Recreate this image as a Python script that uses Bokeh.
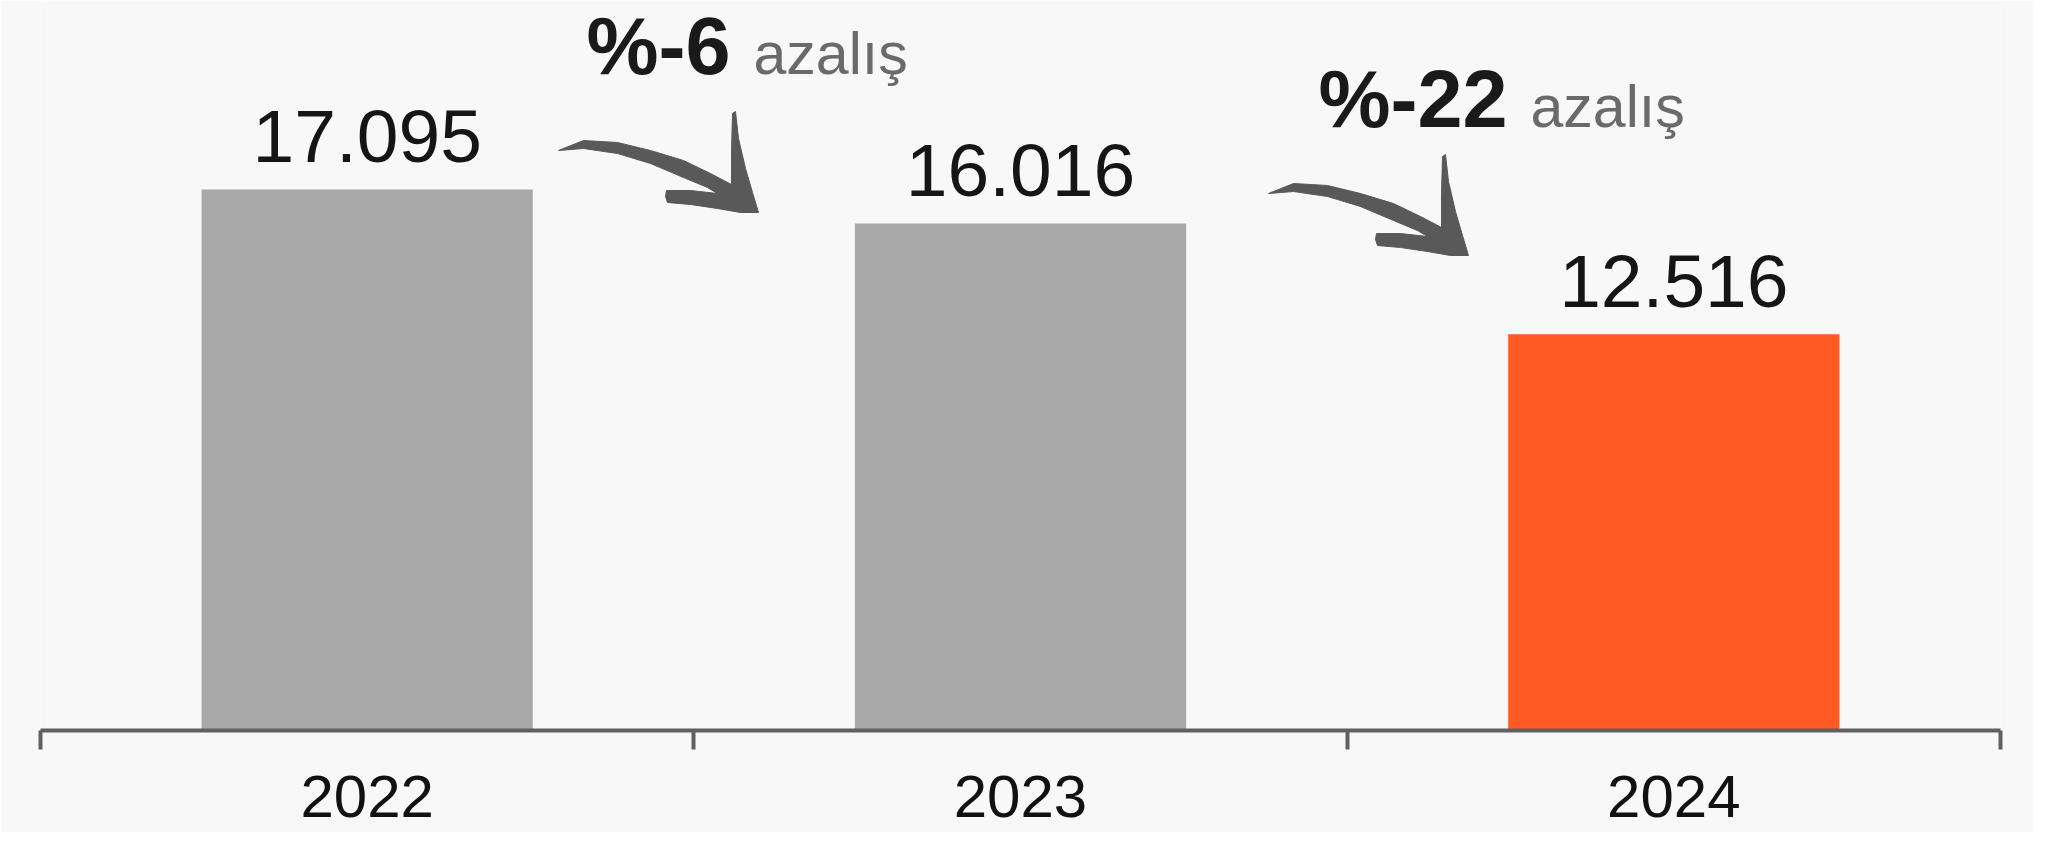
from bokeh.plotting import figure
from bokeh.models import Range1d, LinearAxis, FixedTicker, ColumnDataSource
from bokeh.core.properties import value
from bokeh.embed import file_html
from bokeh.resources import INLINE

# ---- data ----
years = ["2022", "2023", "2024"]
counts = [17095, 16016, 12516]
bar_colors = ["#a8a8a8", "#a8a8a8", "#ff5a22"]

def fmt_tr(v):
    return f"{v:,}".replace(",", ".")

value_labels = [fmt_tr(v) for v in counts]
change_pct = [round((counts[i + 1] - counts[i]) / counts[i] * 100) for i in range(len(counts) - 1)]
change_word = "azalış"

# category centres on a numeric index axis
centers = [i + 0.5 for i in range(len(years))]
bounds = [float(i) for i in range(len(years) + 1)]

src = ColumnDataSource(dict(x=centers, year=years, count=counts, label=value_labels, color=bar_colors))

# ---- layout constants (picture pixels -> data) ----
W, H = 2033, 832
LEFT, RIGHT, TOP, BOTTOM = 40, 33, 0, 102
FRAME_W = W - LEFT - RIGHT
FRAME_H = H - TOP - BOTTOM
PX_PER_UNIT = 0.03165
Y_END = FRAME_H / PX_PER_UNIT
UNIT_X = FRAME_W / len(years)
BASE_FIX = 0.35   # text anchor -> baseline correction (em)

def px_x(pic_x):
    return (pic_x - LEFT) / UNIT_X

def px_y(pic_y):
    return (TOP + FRAME_H - pic_y) / PX_PER_UNIT

FONT = "Liberation Sans"
VAL_SIZE, YEAR_SIZE, PCT_SIZE, WORD_SIZE = 75, 60, 81, 59

p = figure(width=W, height=H, x_range=Range1d(0, len(years)),
           y_range=Range1d(0, Y_END), x_axis_location=None, y_axis_location=None,
           toolbar_location=None, output_backend="svg",
           min_border_left=LEFT, min_border_right=RIGHT, min_border_top=TOP,
           min_border_bottom=BOTTOM)
p.outline_line_color = None
p.background_fill_color = "#f8f8f8"
p.border_fill_color = "#f8f8f8"
for g in p.grid:
    g.visible = False

# bars
p.vbar(x="x", top="count", width=0.507, color="color", line_color=None, source=src)

# value labels
p.text(x="x", y="count", text="label", y_offset=-27 - BASE_FIX * VAL_SIZE, source=src,
       text_align="center", text_baseline="alphabetic",
       text_font=value(FONT), text_font_size=f"{VAL_SIZE}px", text_color="#151515")

# axis with boundary ticks
ax = LinearAxis(ticker=FixedTicker(ticks=centers, minor_ticks=bounds),
                major_label_overrides={c: y for c, y in zip(centers, years)})
ax.major_tick_out = 0
ax.major_tick_in = 0
ax.minor_tick_out = 19
ax.minor_tick_in = 0
ax.minor_tick_line_width = 4
ax.minor_tick_line_color = "#606060"
ax.axis_line_width = 4
ax.axis_line_color = "#606060"
ax.major_label_standoff = 26
ax.major_label_text_font = FONT
ax.major_label_text_font_size = f"{YEAR_SIZE}px"
ax.major_label_text_color = "#111111"
p.add_layout(ax, "below")

# change annotations (picture-pixel anchors: style only)
ann_split = [741, 1518]        # x between bold number and word
ann_base = [74, 127]           # baseline
arrow_tail = [(558, 150), (1268, 193)]

pct_text = [f"%{c}" for c in change_pct]
p.text(x=[px_x(s - 11) for s in ann_split], y=[px_y(b) for b in ann_base], text=pct_text,
       y_offset=-BASE_FIX * PCT_SIZE,
       text_align="right", text_baseline="alphabetic",
       text_font=value(FONT), text_font_style="bold", text_font_size=f"{PCT_SIZE}px",
       text_color="#1a1a1a")
p.text(x=[px_x(s + 12) for s in ann_split], y=[px_y(b) for b in ann_base],
       text=[change_word] * len(ann_split), y_offset=-BASE_FIX * WORD_SIZE,
       text_align="left", text_baseline="alphabetic",
       text_font=value(FONT), text_font_size=f"{WORD_SIZE}px", text_color="#6a6a6a")

# hand-drawn style arrow shape (pixel offsets from tail)
shape = [(0, 0), (25, -10), (59, -8), (92, 0), (125, 10), (152, 23), (173, 34),
         (173, 0), (174, -37), (177, -39), (180, -12), (187, 18), (194, 42), (200, 62),
         (182, 62), (159, 58), (132, 54), (109, 52), (107, 46), (108, 40),
         (132, 40), (159, 43), (149, 37), (125, 27), (92, 13), (59, 3), (25, -2)]
xs, ys = [], []
for tx, ty in arrow_tail:
    xs.append([px_x(tx + dx) for dx, dy in shape])
    ys.append([px_y(ty + dy) for dx, dy in shape])
p.patches(xs=xs, ys=ys, fill_color="#595959", line_color="#595959",
          line_width=1, line_join="round")

open("out.html", "w").write(file_html(p, INLINE))
